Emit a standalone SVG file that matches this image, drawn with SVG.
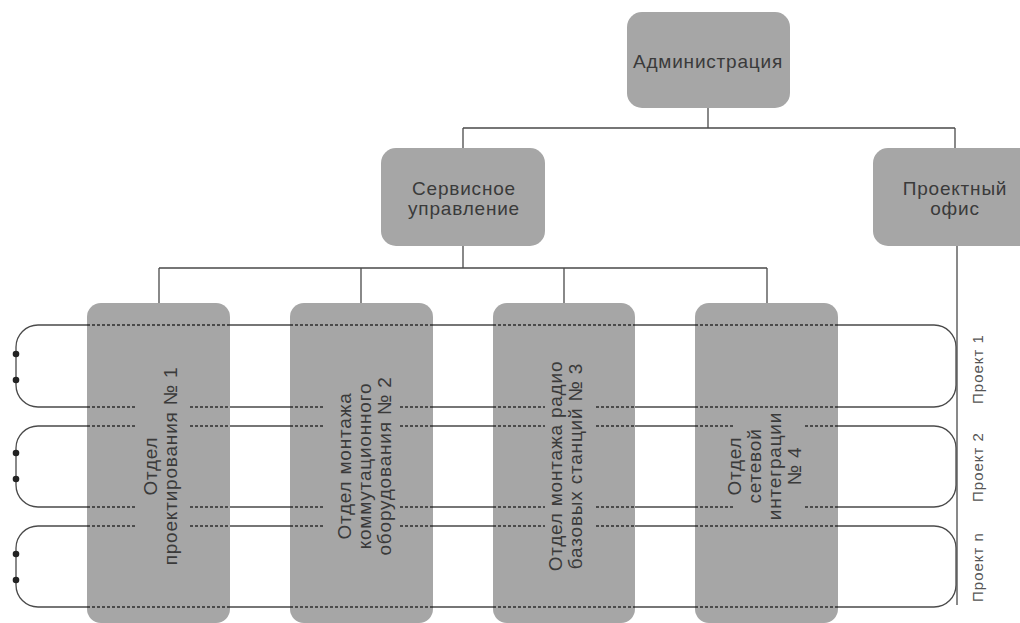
<svg xmlns="http://www.w3.org/2000/svg" width="1020" height="623" viewBox="0 0 1020 623">
<defs>
<style>
.box{fill:#a6a6a6;}
.t{font-family:"Liberation Sans",Arial,sans-serif;font-size:19px;letter-spacing:0.8px;fill:#3a3a3a;text-anchor:middle;}
.p{font-family:"Liberation Sans",Arial,sans-serif;font-size:15px;letter-spacing:1px;fill:#555;text-anchor:middle;}
.ln{fill:none;stroke:#4a4a4a;stroke-width:1.3;}
.dash{fill:none;stroke:#2e2e2e;stroke-width:1.3;stroke-dasharray:3 2;}
.dot{fill:#222;}
</style>
</defs>
<rect width="1020" height="623" fill="#fff"/>
<g id="connectors">
<path class="ln" d="M708 108 V128 M463 128 H955 M463 128 V148 M955 128 V148"/>
<path class="ln" d="M463 246 V268 M159 268 H767 M159 268 V303 M361 268 V303 M564 268 V303 M767 268 V303"/>
<path class="ln" d="M957 246 V605"/>
</g>
<g id="projects">
<path class="ln" d="M38 325 H934 A22 22 0 0 1 956 347 V385 A22 22 0 0 1 934 407 H38 A22 22 0 0 1 16 385 V347 A22 22 0 0 1 38 325 Z"/>
<path class="ln" d="M38 426 H934 A22 22 0 0 1 956 448 V485 A22 22 0 0 1 934 507 H38 A22 22 0 0 1 16 485 V448 A22 22 0 0 1 38 426 Z"/>
<path class="ln" d="M38 526 H934 A22 22 0 0 1 956 548 V585 A22 22 0 0 1 934 607 H38 A22 22 0 0 1 16 585 V548 A22 22 0 0 1 38 526 Z"/>
<circle class="dot" cx="16" cy="354" r="3.3"/>
<circle class="dot" cx="16" cy="380" r="3.3"/>
<circle class="dot" cx="16" cy="453" r="3.3"/>
<circle class="dot" cx="16" cy="479" r="3.3"/>
<circle class="dot" cx="16" cy="554" r="3.3"/>
<circle class="dot" cx="16" cy="580" r="3.3"/>
</g>
<g id="admin">
<rect class="box" x="627" y="12" width="163" height="96" rx="15"/>
<text class="t" x="708" y="68">Администрация</text>
</g>
<g id="service">
<rect class="box" x="381" y="148" width="164" height="98" rx="15"/>
<text class="t" x="464" y="195">Сервисное</text>
<text class="t" x="464" y="215">управление</text>
</g>
<g id="projectoffice">
<rect class="box" x="873" y="148" width="165" height="98" rx="15"/>
<text class="t" x="955" y="195">Проектный</text>
<text class="t" x="955" y="215">офис</text>
</g>
<g id="dept1">
<rect class="box" x="87" y="303" width="143" height="320" rx="14"/>
<text class="t" transform="translate(160 466) rotate(-90)"><tspan x="0" y="-3">Отдел</tspan><tspan x="0" y="17">проектирования № 1</tspan></text>
</g>
<g id="dept2">
<rect class="box" x="290" y="303" width="143" height="320" rx="14"/>
<text class="t" transform="translate(364 466) rotate(-90)"><tspan x="0" y="-13">Отдел монтажа</tspan><tspan x="0" y="7">коммутационного</tspan><tspan x="0" y="27">оборудования № 2</tspan></text>
</g>
<g id="dept3">
<rect class="box" x="493" y="303" width="142" height="320" rx="14"/>
<text class="t" transform="translate(565 466) rotate(-90)"><tspan x="0" y="-3">Отдел монтажа радио</tspan><tspan x="0" y="17">базовых станций № 3</tspan></text>
</g>
<g id="dept4">
<rect class="box" x="695" y="303" width="143" height="320" rx="14"/>
<text class="t" transform="translate(764 466) rotate(-90)"><tspan x="0" y="-23">Отдел</tspan><tspan x="0" y="-3">сетевой</tspan><tspan x="0" y="17">интеграции</tspan><tspan x="0" y="37">№ 4</tspan></text>
</g>
<g id="dashes">
<path class="dash" d="M87 325 H230 M290 325 H433 M493 325 H635 M695 325 H838 M87 607 H230 M290 607 H433 M493 607 H635 M695 607 H838"/>
<path class="dash" d="M87 407 H137 M190 407 H230 M290 407 H325 M400 407 H433 M493 407 H545 M596 407 H635 M695 407 H838"/>
<path class="dash" d="M87 426 H137 M190 426 H230 M290 426 H325 M400 426 H433 M493 426 H545 M596 426 H635 M695 426 H733 M805 426 H838"/>
<path class="dash" d="M87 507 H137 M190 507 H230 M290 507 H325 M400 507 H433 M493 507 H545 M596 507 H635 M695 507 H733 M805 507 H838"/>
<path class="dash" d="M87 526 H137 M190 526 H230 M290 526 H325 M400 526 H433 M493 526 H545 M596 526 H635 M695 526 H838"/>
</g>
<g id="labels">
<text class="p" transform="translate(983 369) rotate(-90)">Проект 1</text>
<text class="p" transform="translate(983 467) rotate(-90)">Проект 2</text>
<text class="p" transform="translate(983 567) rotate(-90)">Проект n</text>
</g>
</svg>
